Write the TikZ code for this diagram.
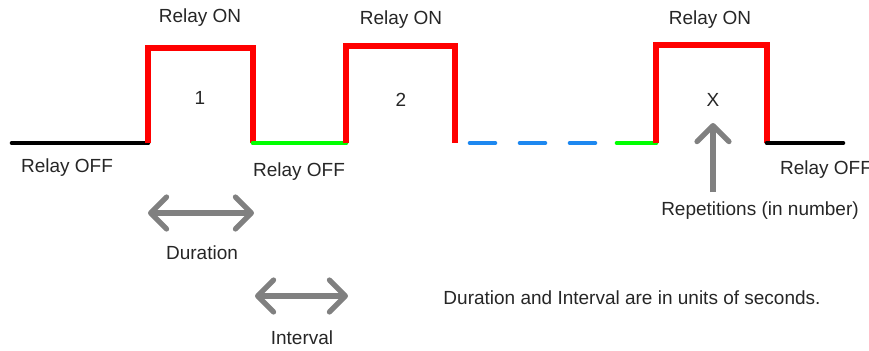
\documentclass[tikz,border=0pt]{standalone}
\usepackage{fontspec}
\setmainfont{Liberation Sans}
\definecolor{relayon}{HTML}{FF0000}
\definecolor{relayoff}{HTML}{000000}
\definecolor{relaywait}{HTML}{00FF00}
\definecolor{relaygap}{HTML}{1E88F0}
\definecolor{relaynote}{HTML}{808080}
\usetikzlibrary{arrows.meta}

\begin{document}
\begin{tikzpicture}[x=0.5pt,y=-0.5pt,
  lbl/.style={font=\fontsize{9.5}{11}\selectfont,inner sep=1pt,text=black!85},
  pulse/.style={draw=relayon,line width=2.6pt},
  idle/.style={draw=relayoff,line width=2.3pt,line cap=round},
  wait/.style={draw=relaywait,line width=2.3pt,line cap=round},
  gap/.style={draw=relaygap,line width=2.3pt,line cap=round,dash pattern=on 12.5pt off 12.5pt},
  span/.style={{Straight Barb[length=8pt,width=16pt,round]}-{Straight Barb[length=8pt,width=16pt,round]},
    draw=relaynote,line width=2.6pt,shorten <=1pt,shorten >=1pt},
  pointer/.style={-{Straight Barb[length=8pt,width=16pt,round]},draw=relaynote,line width=2.6pt}]
  \useasboundingbox (0,0) rectangle (869,350);
  % waveform
  \coordinate (s0) at (12,143);
  \coordinate (r1) at (148,143);
  \coordinate (f1) at (253,143);
  \coordinate (r2) at (346,143);
  \coordinate (f2) at (455,143);
  \coordinate (d0) at (470,143);
  \coordinate (d1) at (596,143);
  \coordinate (w0) at (617,143);
  \coordinate (r3) at (656,143);
  \coordinate (f3) at (767,143);
  \coordinate (e0) at (843,143);
  \draw[idle] (s0) -- (r1);
  \draw[pulse] (r1) -- (148,48) -- (253,48) -- (f1);
  \draw[wait] (f1) -- (r2);
  \draw[pulse] (r2) -- (346,46) -- (455,46) -- (f2);
  \draw[gap] (d0) -- (d1);
  \draw[wait] (w0) -- (r3);
  \draw[pulse] (r3) -- (656,45) -- (767,45) -- (f3);
  \draw[idle] (f3) -- (e0);
  % labels
  \node[lbl] (on1)  at (200,18)  {Relay ON};
  \node[lbl] (on2)  at (401,20)  {Relay ON};
  \node[lbl] (on3)  at (710,20)  {Relay ON};
  \node[lbl] (n1)   at (200,98)  {1};
  \node[lbl] (n2)   at (401,100) {2};
  \node[lbl] (nx)   at (713,100) {X};
  \node[lbl] (off1) at (67,168)  {Relay OFF};
  \node[lbl] (off2) at (299,172) {Relay OFF};
  \node[lbl] (off3) at (826,170) {Relay OFF};
  % spans and repetitions
  \coordinate (dur0) at (146,213);
  \coordinate (dur1) at (256,213);
  \coordinate (int0) at (253,296);
  \coordinate (int1) at (350,296);
  \draw[span] (dur0) -- (dur1);
  \draw[span] (int0) -- (int1);
  \node[lbl] (dur) at (202,253) {Duration};
  \node[lbl] (int) at (302,338) {Interval};
  \node[lbl] (rep) at (760,211) {Repetitions (in number)};
  \coordinate (rep0) at (713,192);
  \coordinate (rep1) at (713,123);
  \draw[pointer] (rep0) -- (rep1);
  \node[lbl] (note) at (632,298) {Duration and Interval are in units of seconds.};
\end{tikzpicture}
\end{document}
